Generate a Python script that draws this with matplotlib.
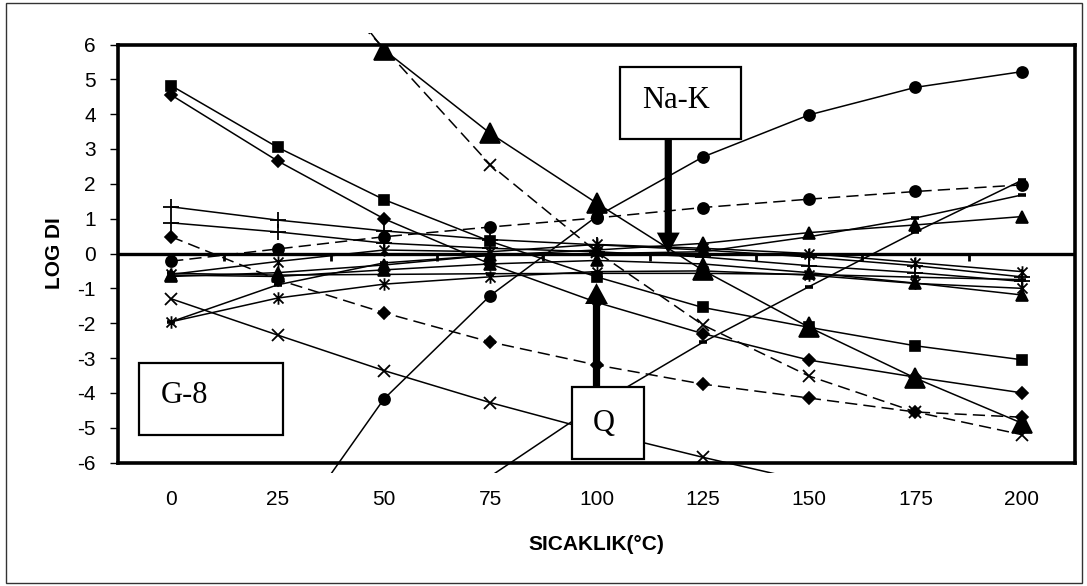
import matplotlib
matplotlib.use("Agg")
import matplotlib.pyplot as plt
from matplotlib.path import Path
from matplotlib.patches import Rectangle, FancyArrow

# ---------------- data ----------------
categories = ["0", "25", "50", "75", "100", "125", "150", "175", "200"]
y_ticks = [-6, -5, -4, -3, -2, -1, 0, 1, 2, 3, 4, 5, 6]

square_solid = [4.82, 3.05, 1.55, 0.35, -0.67, -1.55, -2.12, -2.65, -3.05]
diamond_solid = [4.55, 2.66, 1.0, -0.3, -1.4, -2.3, -3.06, -3.55, -4.0]
bigtri_solid = [14.0, 9.8, 5.85, 3.45, 1.45, -0.48, -2.12, -3.58, -4.87]
x_dashed = [13.0, 9.0, 5.9, 2.55, 0.05, -2.05, -3.52, -4.55, -5.2]
diamond_dashed = [0.48, -0.75, -1.7, -2.54, -3.2, -3.75, -4.15, -4.55, -4.7]
circle_solid = [-12.0, -8.5, -4.18, -1.21, 1.06, 2.77, 3.98, 4.77, 5.22]
circle_dashed = [-0.22, 0.13, 0.48, 0.76, 1.02, 1.32, 1.56, 1.78, 1.97]
dash_rising = [-12.0, -10.0, -8.0, -6.4, -4.35, -2.55, -0.95, 0.62, 2.1]
x_solid = [-1.3, -2.34, -3.36, -4.28, -5.1, -5.85, -6.55, -7.2, -7.8]
star_solid = [-1.96, -1.28, -0.88, -0.67, -0.52, -0.5, -0.62, -0.86, -1.0]
star_solid2 = [-0.6, -0.23, 0.1, 0.05, 0.26, 0.15, 0.0, -0.26, -0.52]
plus_solid1 = [1.34, 0.96, 0.65, 0.4, 0.25, 0.1, -0.1, -0.35, -0.67]
plus_solid2 = [0.88, 0.62, 0.3, 0.15, 0.05, -0.1, -0.35, -0.55, -0.8]
tri_solid = [-0.66, -0.55, -0.33, -0.05, 0.1, 0.29, 0.6, 0.82, 1.06]
tri_solid2 = [-0.62, -0.66, -0.47, -0.3, -0.2, -0.3, -0.55, -0.85, -1.19]
dash_solid = [-1.96, -0.9, -0.27, -0.05, 0.0, 0.05, 0.48, 1.02, 1.68]
dash_solid2 = [-0.57, -0.62, -0.6, -0.58, -0.57, -0.57, -0.6, -0.68, -0.75]

# annotation geometry (category index / LOG DI units)
nak_arrow_x, nak_arrow_top, nak_arrow_tip = 4.675, 3.29, 0.0
q_arrow_x, q_arrow_bottom, q_arrow_tip = 4.0, -3.83, -0.85

# ---------------- figure ----------------
plt.rcParams["font.family"] = ["Liberation Sans", "DejaVu Sans"]
fig = plt.figure(figsize=(10.87, 5.86), dpi=100)
ax = fig.add_axes([118 / 1087, 1 - 462.5 / 586, (1075 - 118) / 1087, (462.5 - 44.5) / 586])

xs = list(range(len(categories)))

star_path = Path(
    [(-1, -1), (1, 1), (-1, 1), (1, -1), (0, -1.25), (0, 1.25)],
    [Path.MOVETO, Path.LINETO, Path.MOVETO, Path.LINETO, Path.MOVETO, Path.LINETO],
)

clip = Rectangle((0, -0.025), 1, 1.053, transform=ax.transAxes, visible=False)
ax.add_patch(clip)

LW = 1.1
DASH = (8, 4)


def series(vals, marker, ms, ls="-", mew=1.2, z=3):
    kw = dict(color="black", lw=LW, zorder=z)
    if ls == "--":
        kw["dashes"] = DASH
    (ln,) = ax.plot(xs, vals, **kw)
    ln.set_clip_path(clip)
    ax.plot(xs, vals, ls="none", marker=marker, ms=ms, mfc="black",
            mec="black", mew=mew, zorder=z + 0.5)


series(x_solid, "x", 8, mew=1.3)
series(dash_rising, "_", 6, mew=2.6)
series(circle_solid, "o", 8)
series(circle_dashed, "o", 8, ls="--")
series(diamond_dashed, "D", 6.5, ls="--")
series(x_dashed, "x", 8, ls="--", mew=1.3)
series(star_solid, star_path, 9, mew=1.3)
series(star_solid2, star_path, 9, mew=1.3)
series(plus_solid1, "+", 11, mew=1.3)
series(plus_solid2, "+", 11, mew=1.3)
series(dash_solid2, "_", 6, mew=2.6)
series(tri_solid, "^", 8)
series(tri_solid2, "^", 8)
series(dash_solid, "_", 6, mew=2.6)
series(square_solid, "s", 7.5)
series(diamond_solid, "D", 6.5)
series(bigtri_solid, "^", 15)

ax.set_xlim(-0.5, len(categories) - 0.5)
ax.set_ylim(y_ticks[0], y_ticks[-1])
ax.set_xticks(xs)
ax.set_xticklabels(categories)
ax.set_yticks(y_ticks)
ax.set_yticklabels([str(v) for v in y_ticks])
ax.tick_params(axis="x", length=0, pad=20, labelsize=15)
ax.tick_params(axis="y", length=6, width=1, pad=10, labelsize=15, direction="out")
for sp in ax.spines.values():
    sp.set_linewidth(2.6)
    sp.set_zorder(6)

# zero axis with its tick marks between categories
ax.axhline(0, color="black", lw=2.4, zorder=5)
ax.vlines([k + 0.5 for k in xs[:-1]], -0.22, 0, color="black", lw=2, zorder=5)

ax.set_xlabel("SICAKLIK(°C)", fontsize=15, fontweight="bold")
ax.xaxis.label.set_va("center")
ax.xaxis.set_label_coords(0.5, -0.195)
ax.set_ylabel("LOG DI", fontsize=15, fontweight="bold")
ax.yaxis.label.set_va("center")
ax.yaxis.set_label_coords(-0.066, 0.5)


# text boxes
def box(x0, x1, y0, y1):
    ax.add_patch(Rectangle((x0, y0), x1 - x0, y1 - y0, facecolor="white",
                           edgecolor="black", lw=1.6, zorder=8, clip_on=False))


box(4.222, 5.363, 3.29, 5.363)
ax.text(4.745, 4.18, "Na-K", family="Liberation Serif", fontsize=22,
        ha="center", va="baseline", zorder=9)
box(3.77, 4.449, -5.90, -3.833)
ax.text(4.07, -5.09, "Q", family="Liberation Serif", fontsize=22,
        ha="center", va="baseline", zorder=9)
box(-0.302, 1.056, -5.21, -3.144)
ax.text(0.123, -4.29, "G-8", family="Liberation Serif", fontsize=22,
        ha="center", va="baseline", zorder=9)


# vertical arrows: width along x (category units), length along y (LOG units)
def varrow(x, y_from, y_to):
    ax.add_patch(FancyArrow(x, y_from, 0, y_to - y_from, width=0.068,
                            head_width=0.215, head_length=0.6,
                            length_includes_head=True, color="black",
                            lw=0, zorder=7))


varrow(nak_arrow_x, nak_arrow_top, nak_arrow_tip)
varrow(q_arrow_x, q_arrow_bottom, q_arrow_tip)

# outer chart border
fig.add_artist(Rectangle((6 / 1087, 3 / 586), 1076 / 1087, 580 / 586,
                         transform=fig.transFigure, fill=False,
                         edgecolor="#333333", lw=1))

fig.savefig("out.png", dpi=100)
